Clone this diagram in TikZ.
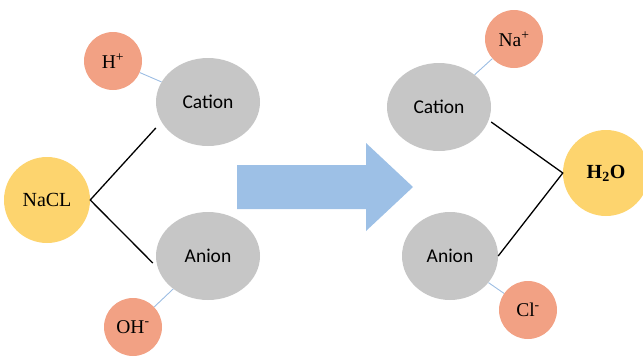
\documentclass[tikz,border=0pt]{standalone}
\usepackage{fontspec}
\setmainfont{Liberation Serif}
\newfontfamily\ionsans{Carlito}
\usetikzlibrary{shapes.geometric}

\definecolor{ionorange}{HTML}{F2A184}
\definecolor{iongray}{HTML}{C6C6C6}
\definecolor{saltyellow}{HTML}{FDD46E}
\definecolor{flowblue}{HTML}{9DC0E6}
\definecolor{linkblue}{HTML}{9CBDE3}

\tikzset{
  ion/.style={circle, fill=ionorange, minimum size=58pt, inner sep=0pt, font=\fontsize{19.5}{21}\selectfont},
  part/.style={ellipse, fill=iongray, minimum width=104pt, minimum height=88pt, inner sep=0pt, font=\ionsans\fontsize{19.5}{21}\selectfont},
  salt/.style={circle, fill=saltyellow, minimum size=86pt, inner sep=0pt, font=\fontsize{20}{22}\selectfont},
  bond/.style={draw=black, line width=1.3pt},
  link/.style={draw=linkblue, line width=0.9pt}
}

\begin{document}
\begin{tikzpicture}[x=1pt, y=-1pt]
  \useasboundingbox (0,0) rectangle (643,360);

  % left side: NaCl splits into its ions
  \node[salt] (nacl) at (47,200) {NaCL};
  \node[part] (catL) at (208,102) {Cation};
  \node[part] (anL)  at (208,256) {Anion};
  \node[ion]  (hplus) at (113,61) {H\textsuperscript{+}};
  \node[ion]  (ohmin) at (133,327) {OH\textsuperscript{-}};

  \draw[bond] ([yshift=-26pt]catL.west) -- (nacl.east) -- ([xshift=-3pt,yshift=-7pt]anL.west);
  \draw[link] (hplus) -- (catL);
  \draw[link] (ohmin) -- (anL);

  % reaction arrow
  \fill[flowblue] (237,165) -- (366,165) -- (366,143) -- (413,187)
                  -- (366,231) -- (366,209) -- (237,209) -- cycle;

  % right side: ions recombine into water
  \node[part] (catR) at (439,107) {Cation};
  \node[part, minimum width=96pt] (anR) at (450,256) {Anion};
  \node[ion]  (naplus) at (514,39) {Na\textsuperscript{+}};
  \node[ion]  (clmin)  at (528,310) {Cl\textsuperscript{-}};
  \node[salt] (water)  at (606,173) {\textbf{H\textsubscript{2}O}};

  \draw[bond] ([yshift=-15pt]catR.east) -- (water.west) -- (anR.east);
  \draw[link] (naplus) -- (catR);
  \draw[link] (clmin) -- (anR);
\end{tikzpicture}
\end{document}
